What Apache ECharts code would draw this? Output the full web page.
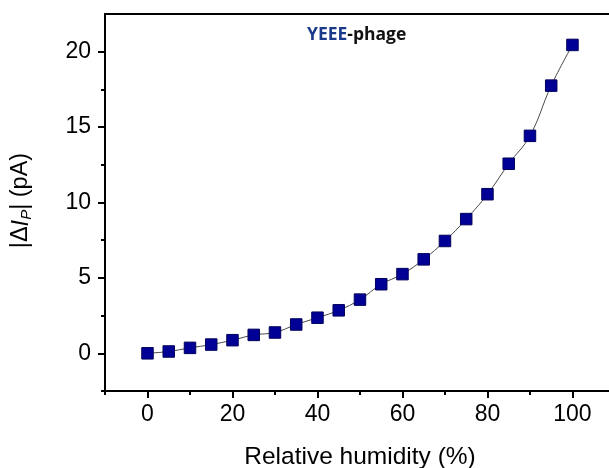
<!DOCTYPE html>
<html>
<head>
<meta charset="utf-8">
<title>Relative humidity response</title>
<script src="https://cdn.jsdelivr.net/npm/echarts@6/dist/echarts.min.js"></script>
<style>
  html, body { margin: 0; padding: 0; background: #ffffff; overflow: hidden; }
  #chart { width: 609px; height: 468px; }
</style>
</head>
<body>
<div id="chart"></div>
<script>
// Relative humidity (%) at each measurement
const humidity = [0, 5, 10, 15, 20, 25, 30, 35, 40, 45, 50, 55, 60, 65, 70, 75, 80, 85, 90, 95, 100];
// |ΔI_P| in pA
const deltaIp = [0.0, 0.12, 0.36, 0.58, 0.87, 1.22, 1.38, 1.91, 2.36, 2.85, 3.56, 4.58, 5.25, 6.23, 7.45, 8.9, 10.55, 12.57, 14.42, 17.75, 20.45];

// Tick positions
const xMajorTicks = [0, 20, 40, 60, 80, 100];
const xMinorTicks = [-10, 10, 30, 50, 70, 90];
const yMajorTicks = [0, 5, 10, 15, 20];
const yMinorTicks = [-2.5, 2.5, 7.5, 12.5, 17.5];

const AXIS_FONT = 'Liberation Sans, Arial, sans-serif';
// the frame is cut at the right edge of the figure
const X_MIN = -10, X_MAX = 108.6;
const Y_MIN = -2.5, Y_MAX = 22.5;

const chart = echarts.init(document.getElementById('chart'), null, { renderer: 'canvas' });

const axisLine = { show: true, onZero: false, lineStyle: { color: '#000', width: 2 } };

chart.setOption({
  backgroundColor: '#ffffff',
  animation: false,
  grid: { left: 105, top: 14, bottom: 77, right: 0, containLabel: false, outerBoundsMode: 'none' },
  xAxis: [
    {
      type: 'value', position: 'bottom', min: X_MIN, max: X_MAX,
      axisLine: axisLine,
      axisTick: { show: true, inside: false, length: 7, customValues: xMajorTicks, lineStyle: { color: '#000', width: 2 } },
      axisLabel: { show: true, customValues: xMajorTicks, margin: 12, color: '#000', fontSize: 23, fontFamily: AXIS_FONT },
      splitLine: { show: false },
      name: 'Relative humidity (%)', nameLocation: 'middle', nameGap: 54,
      nameTextStyle: { color: '#000', fontSize: 24.5, fontFamily: AXIS_FONT, padding: [0, 0, 0, 6] }
    },
    {
      type: 'value', position: 'bottom', min: X_MIN, max: X_MAX,
      axisLine: axisLine,
      axisTick: { show: true, inside: false, length: 4, customValues: xMinorTicks, lineStyle: { color: '#000', width: 2 } },
      axisLabel: { show: false },
      splitLine: { show: false }
    },
    {
      type: 'value', position: 'top', min: X_MIN, max: X_MAX,
      axisLine: axisLine,
      axisTick: { show: false },
      axisLabel: { show: false },
      splitLine: { show: false }
    }
  ],
  yAxis: [
    {
      type: 'value', position: 'left', min: Y_MIN, max: Y_MAX,
      axisLine: axisLine,
      axisTick: { show: true, inside: false, length: 7, customValues: yMajorTicks, lineStyle: { color: '#000', width: 2 } },
      axisLabel: { show: true, customValues: yMajorTicks, margin: 14, color: '#000', fontSize: 23, fontFamily: AXIS_FONT },
      splitLine: { show: false },
      name: '|Δ{i|I}{s|P}| (pA)', nameLocation: 'middle', nameGap: 71, nameRotate: 90,
      nameTextStyle: {
        color: '#000', fontSize: 23.5, fontFamily: AXIS_FONT, lineHeight: 26, padding: [0, 0, 0, 4],
        rich: {
          i: { fontSize: 23.5, fontStyle: 'italic', fontFamily: AXIS_FONT, color: '#000', lineHeight: 26 },
          s: { fontSize: 15, fontStyle: 'italic', fontFamily: AXIS_FONT, color: '#000', verticalAlign: 'bottom', lineHeight: 20 }
        }
      }
    },
    {
      type: 'value', position: 'left', min: Y_MIN, max: Y_MAX,
      axisLine: axisLine,
      axisTick: { show: true, inside: false, length: 4, customValues: yMinorTicks, lineStyle: { color: '#000', width: 2 } },
      axisLabel: { show: false },
      splitLine: { show: false }
    }
  ],
  series: [
    {
      type: 'line',
      xAxisIndex: 0, yAxisIndex: 0,
      data: humidity.map((h, i) => [h, deltaIp[i]]),
      smooth: 0.4,
      symbol: 'rect',
      symbolSize: 11.5,
      showAllSymbol: true,
      lineStyle: { color: '#4a4a4a', width: 1 },
      itemStyle: { color: '#000096', borderColor: '#00005c', borderWidth: 1 },
      z: 3
    }
  ],
  graphic: [
    {
      type: 'text', left: 307, top: 26,
      style: {
        text: '{b|YEEE}{k|-phage}',
        rich: {
          b: { fill: '#1b3a8c', fontSize: 17.5, fontWeight: 'bold', fontFamily: 'Open Sans, Noto Sans, sans-serif' },
          k: { fill: '#111', fontSize: 17.5, fontWeight: 'bold', fontFamily: 'Open Sans, Noto Sans, sans-serif' }
        }
      }
    }
  ]
});
</script>
</body>
</html>
